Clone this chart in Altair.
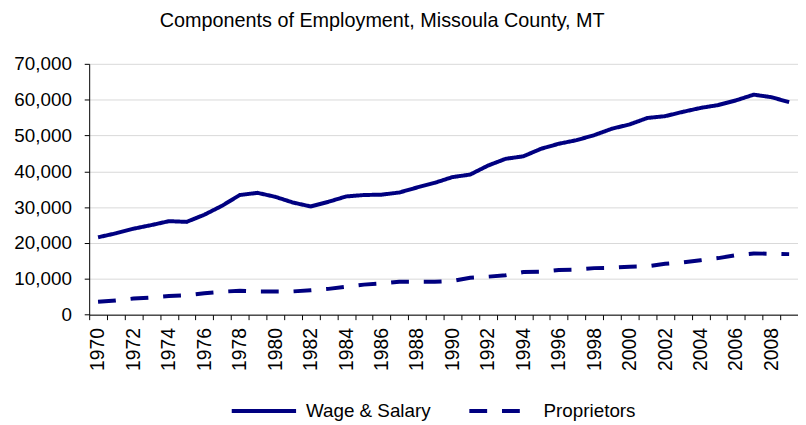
import altair as alt
import pandas as pd

years = list(range(1970, 2010))
wage_salary = [21600, 22700, 24000, 25000, 26100, 25900, 27900, 30400, 33400, 34000,
               32900, 31300, 30200, 31500, 33000, 33400, 33500, 34100, 35500, 36800,
               38400, 39100, 41600, 43500, 44200, 46300, 47700, 48700, 50100, 51900,
               53100, 54900, 55400, 56600, 57700, 58500, 59800, 61400, 60700, 59300]
proprietors = [3600, 3950, 4500, 4800, 5200, 5400, 6000, 6400, 6700, 6500,
               6500, 6500, 6800, 7200, 7800, 8400, 8700, 9200, 9200, 9200,
               9400, 10300, 10600, 11000, 11900, 12000, 12500, 12600, 13000, 13100,
               13400, 13500, 14200, 14600, 15200, 15800, 16600, 17100, 17000, 16900]
series = ["Wage & Salary", "Proprietors"]
y_ticks = list(range(0, 70001, 10000))
title_text = "Components of Employment, Missoula County, MT"

df = pd.DataFrame({
    "year": years * 2,
    "value": wage_salary + proprietors,
    "series": [series[0]] * len(years) + [series[1]] * len(years),
})
# category boundaries (Excel-style ticks between categories)
boundaries = [years[0] - 0.5 + k for k in range(len(years) + 1)]

FONT = "Liberation Sans, Arial"
W, H = 716, 253.4
STEP = W / len(years)

xscale = alt.Scale(domain=[years[0] - 0.5, years[-1] + 0.5], nice=False, zero=False)
yscale = alt.Scale(domain=[0, 70000], nice=False)

legend = alt.Legend(
    title=None, orient="none", legendX=142, legendY=316, direction="horizontal",
    symbolType="stroke", symbolSize=4225, symbolStrokeWidth=4,
    labelFont=FONT, labelFontSize=19, labelColor="#000000", labelOffset=8,
    columnPadding=30, labelLimit=300,
)

xaxis = alt.Axis(
    title=None, values=boundaries,
    labelExpr="(datum.value + 0.5) % 2 == 0 && datum.value < 2009 ? format(datum.value + 0.5, 'd') : ''",
    labelAngle=-90, labelAlign="right", labelBaseline="middle",
    tickSize=5, tickColor="#000000", labelPadding=8, labelOffset=STEP / 2,
    grid=False, domainColor="#000000",
    labelFont=FONT, labelFontSize=19.5, labelColor="#000000",
    labelFlush=False, labelOverlap=False, labelBound=False,
)
yaxis = alt.Axis(
    title=None, values=y_ticks, labelExpr="format(datum.value, ',')",
    tickSize=5, tickColor="#000000", domainColor="#000000",
    gridColor="#d9d9d9", gridWidth=1, labelPadding=13,
    labelFont=FONT, labelFontSize=19, labelColor="#000000",
)

chart = alt.Chart(df).mark_line(strokeWidth=4).encode(
    x=alt.X("year:Q", scale=xscale, axis=xaxis),
    y=alt.Y("value:Q", scale=yscale, axis=yaxis),
    color=alt.Color("series:N", scale=alt.Scale(domain=series, range=["#000080", "#000080"]),
                    legend=legend),
    strokeDash=alt.StrokeDash("series:N", scale=alt.Scale(domain=series, range=[[1, 0], [18, 15]]),
                              legend=legend),
).properties(
    width=W, height=H,
    title=alt.TitleParams(title_text, font=FONT, fontSize=20, fontWeight="normal",
                          color="#000000", anchor="middle", dx=-62, offset=24),
    autosize=alt.AutoSizeParams(type="none"),
    padding={"left": 82, "top": 54.3, "right": 0, "bottom": 109.3},
).configure_view(stroke=None)

chart.save("out.html", embed_options={"renderer": "svg", "actions": False})
